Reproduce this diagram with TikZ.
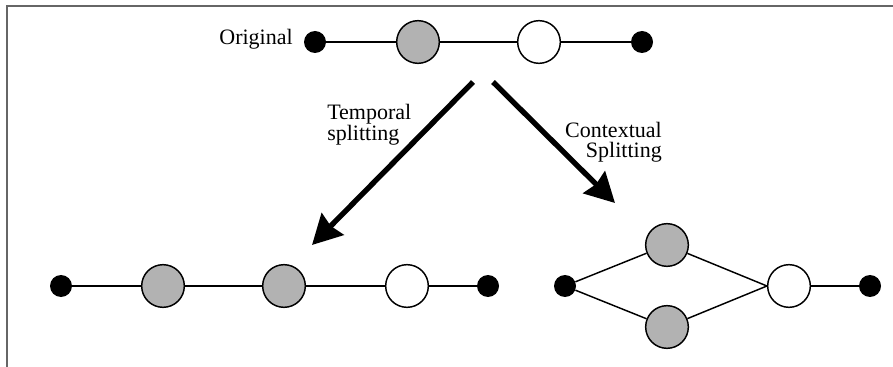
\documentclass[tikz,border=0pt]{standalone}
\usepackage{fontspec}
\setmainfont{Liberation Serif}
\usetikzlibrary{arrows.meta}
\begin{document}
\begin{tikzpicture}[x=0.75pt, y=-0.75pt,
  dot/.style={circle,fill=black,inner sep=0pt,minimum size=16.5pt},
  ev/.style={circle,draw,line width=1.1pt,inner sep=0pt,minimum size=32pt},
  grey/.style={ev,fill=black!30},
  blank/.style={ev,fill=white},
  link/.style={line width=1.1pt},
  split/.style={line width=4pt,-{Stealth[length=22pt,width=23pt,inset=2pt]}},
  lbl/.style={inner sep=0pt,font=\fontsize{16.5}{14}\selectfont}]
\useasboundingbox (0,0) rectangle (893,367);
\draw[black!60, line width=1pt] (7,367) -- (7,6) -- (893,6);
% original sequence
\node[dot] (o1) at (315,42) {};
\node[grey] (o2) at (418,42) {};
\node[blank] (o3) at (539,42) {};
\node[dot] (o4) at (642,42) {};
\node[lbl, anchor=base east] (orig) at (293,45) {Original};
\draw[link] (o1) -- (o2) -- (o3) -- (o4);
% temporal splitting
\node[dot] (t1) at (61,286) {};
\node[grey] (t2) at (163,286) {};
\node[grey] (t3) at (284,286) {};
\node[blank] (t4) at (407,286) {};
\node[dot] (t5) at (488,286) {};
\draw[link] (t1) -- (t2) -- (t3) -- (t4) -- (t5);
% contextual splitting
\node[dot] (c1) at (565,286) {};
\node[grey] (c2) at (667,245) {};
\node[grey] (c3) at (667,327) {};
\node[blank] (c4) at (789,286) {};
\node[dot] (c5) at (870,286) {};
\draw[link] (c1) -- (c2) -- (c4.west);
\draw[link] (c1) -- (c3) -- (c4.west);
\draw[link] (c4) -- (c5);
% arrows
\coordinate (ts) at (473,82);
\coordinate (te) at (312,245);
\coordinate (cs) at (493,82);
\coordinate (ce) at (615,203);
\draw[split] (ts) -- (te);
\draw[split] (cs) -- (ce);
\node[lbl, align=left, anchor=west] (tlbl) at (327,125) {Temporal\\splitting};
\node[lbl, font=\fontsize{16.5}{15}\selectfont, align=right, anchor=east] (clbl) at (662,142) {Contextual\\Splitting};
\end{tikzpicture}
\end{document}
